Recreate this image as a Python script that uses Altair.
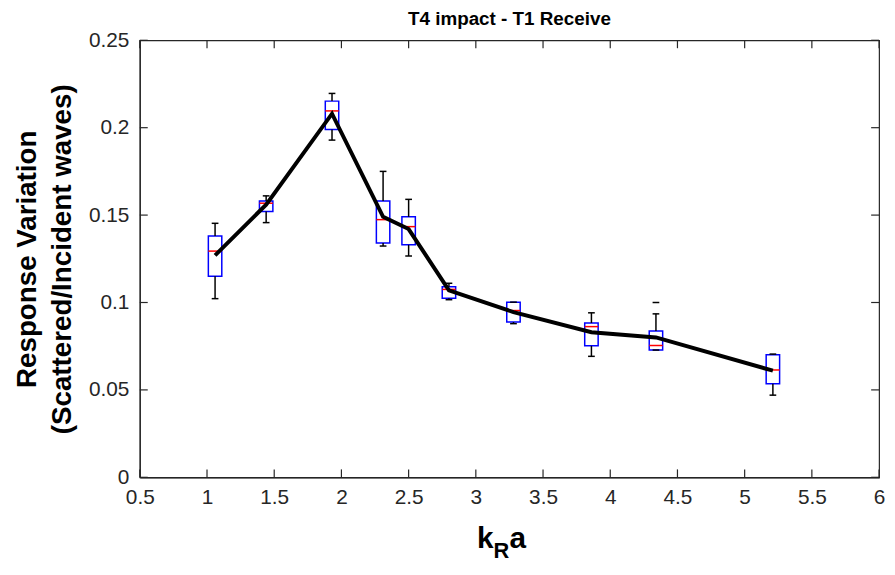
import altair as alt
import pandas as pd

# ---- data ----
kra = [1.06, 1.44, 1.93, 2.31, 2.50, 2.80, 3.28, 3.86, 4.34, 5.21]
mean_vals = [0.127, 0.156, 0.208, 0.149, 0.142, 0.107, 0.0945, 0.083, 0.080, 0.061]
q1 = [0.115, 0.152, 0.199, 0.134, 0.133, 0.1024, 0.0888, 0.0752, 0.0728, 0.0535]
q3 = [0.138, 0.158, 0.2152, 0.158, 0.149, 0.109, 0.1002, 0.0883, 0.0837, 0.0701]
median = [0.1294, 0.1568, 0.2096, 0.1474, 0.1434, 0.1075, 0.0954, 0.0862, 0.0754, 0.0614]
whisk_lo = [0.1022, 0.1457, 0.1929, 0.1323, 0.1266, 0.1016, 0.0879, 0.0692, 0.0728, 0.047]
whisk_hi = [0.1453, 0.161, 0.2196, 0.175, 0.159, 0.111, 0.1002, 0.0941, 0.0935, 0.0705]
outlier_x = [4.34]
outlier_y = [0.1]
x_ticks = [0.5, 1, 1.5, 2, 2.5, 3, 3.5, 4, 4.5, 5, 5.5, 6]
y_ticks = [0, 0.05, 0.1, 0.15, 0.2, 0.25]
y_title = ["Response Variation", "(Scattered/Incident waves)"]

FONT = "Liberation Sans"
AX = "#262626"
W, H = 746, 441
BOX_HALF = 0.05
CAP_HALF = 0.025
TICK_LEN = 8

df = pd.DataFrame({"kra": kra, "mean": mean_vals, "q1": q1, "q3": q3,
                   "median": median, "lo": whisk_lo, "hi": whisk_hi})
out_df = pd.DataFrame({"kra": outlier_x, "v": outlier_y})
xt = pd.DataFrame({"t": x_ticks})
yt = pd.DataFrame({"t": y_ticks})

xs = alt.Scale(domain=[0.5, 6], nice=False, zero=False)
ys = alt.Scale(domain=[0, 0.25], nice=False)

X_AX = alt.Axis(values=x_ticks, format="~g", ticks=False, grid=False,
                labelFont=FONT, labelFontSize=21, labelColor=AX, labelFlush=False,
                labelOverlap=False, labelPadding=9, domainColor=AX, domainWidth=1.2)
Y_AX = alt.Axis(values=y_ticks, format="~g", ticks=False, grid=False,
                labelFont=FONT, labelFontSize=21, labelColor=AX, labelFlush=False,
                labelOverlap=False, labelPadding=11, domainColor=AX, domainWidth=1.2,
                titleFont=FONT, titleFontSize=28, titleFontWeight="bold",
                titleColor="black", titlePadding=12, titleLineHeight=35)


def X(field):
    return alt.X(field, type="quantitative", scale=xs, axis=X_AX, title=None)


def Y(field):
    return alt.Y(field, type="quantitative", scale=ys, axis=Y_AX, title=y_title)


base = alt.Chart(df).transform_calculate(
    xl=f"datum.kra - {BOX_HALF}", xr=f"datum.kra + {BOX_HALF}",
    cl=f"datum.kra - {CAP_HALF}", cr=f"datum.kra + {CAP_HALF}")

whisk_up = base.mark_rule(color="black", strokeWidth=1.5).encode(
    x=X("kra"), y=Y("q3"), y2="hi:Q")
whisk_dn = base.mark_rule(color="black", strokeWidth=1.5).encode(
    x=X("kra"), y=Y("q1"), y2="lo:Q")
cap_up = base.mark_rule(color="black", strokeWidth=1.5).encode(
    x=X("cl"), x2="cr:Q", y=Y("hi"))
cap_dn = base.mark_rule(color="black", strokeWidth=1.5).encode(
    x=X("cl"), x2="cr:Q", y=Y("lo"))
box = base.mark_rect(fill="transparent", stroke="#0000ff", strokeWidth=1.5).encode(
    x=X("xl"), x2="xr:Q", y=Y("q1"), y2="q3:Q")
med = base.mark_rule(color="#ff0000", strokeWidth=1.5).encode(
    x=X("xl"), x2="xr:Q", y=Y("median"))
outl = alt.Chart(out_df).transform_calculate(
    cl=f"datum.kra - {CAP_HALF}", cr=f"datum.kra + {CAP_HALF}").mark_rule(
    color="black", strokeWidth=1.5).encode(x=X("cl"), x2="cr:Q", y=Y("v"))

line = alt.Chart(df).mark_line(color="black", strokeWidth=4).encode(
    x=X("kra"), y=Y("mean"))

tb = alt.Chart(xt).mark_rule(color=AX, strokeWidth=1.2).encode(
    x=X("t"), y=alt.value(H), y2=alt.value(H - TICK_LEN))
tt = alt.Chart(xt).mark_rule(color=AX, strokeWidth=1.2).encode(
    x=X("t"), y=alt.value(0), y2=alt.value(TICK_LEN))
tl = alt.Chart(yt).mark_rule(color=AX, strokeWidth=1.2).encode(
    y=Y("t"), x=alt.value(0), x2=alt.value(TICK_LEN))
tr = alt.Chart(yt).mark_rule(color=AX, strokeWidth=1.2).encode(
    y=Y("t"), x=alt.value(W), x2=alt.value(W - TICK_LEN))

xk = alt.Chart(pd.DataFrame({"s": ["k"]})).mark_text(
    font=FONT, fontSize=30, fontWeight="bold", align="right", baseline="alphabetic",
    color="black").encode(text="s:N", x=alt.value(357), y=alt.value(512))
xR = alt.Chart(pd.DataFrame({"s": ["R"]})).mark_text(
    font=FONT, fontSize=22, fontWeight="bold", align="left", baseline="alphabetic",
    color="black").encode(text="s:N", x=alt.value(357), y=alt.value(522))
xa = alt.Chart(pd.DataFrame({"s": ["a"]})).mark_text(
    font=FONT, fontSize=30, fontWeight="bold", align="left", baseline="alphabetic",
    color="black").encode(text="s:N", x=alt.value(373), y=alt.value(512))

chart = alt.layer(
    box, whisk_up, whisk_dn, cap_up, cap_dn, med, outl, line,
    tb, tt, tl, tr, xk, xR, xa
).properties(
    width=W, height=H,
    title=alt.TitleParams("T4 impact - T1 Receive", font=FONT, fontSize=19,
                          fontWeight="bold", color="black", offset=0),
    autosize=alt.AutoSizeParams(type="none"),
    padding={"left": 133, "top": 30, "right": 8, "bottom": 96},
).configure_view(stroke=AX, strokeWidth=1.2)

chart.save("out.html", embed_options={"renderer": "svg", "actions": False})
